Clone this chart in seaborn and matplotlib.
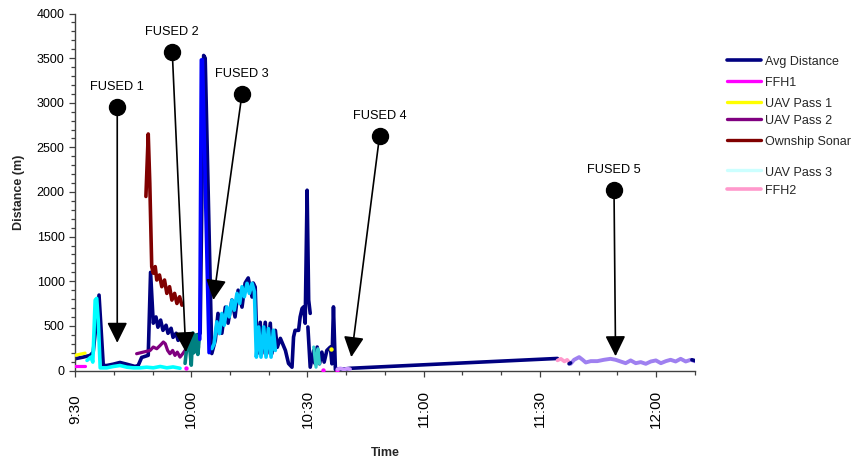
import pandas as pd
import matplotlib
matplotlib.use("Agg")
import matplotlib.pyplot as plt
import matplotlib.dates as mdates
from matplotlib.lines import Line2D
from matplotlib.ticker import MultipleLocator
import seaborn as sns

sns.set_style("white")
plt.rcParams["font.family"] = ["Liberation Sans", "DejaVu Sans"]

START = pd.Timestamp("2006-05-10 09:30")

# ---- series: minutes after 09:30, distance in metres ----
avg_a_min = [0, 1.3, 2.1, 3.9, 4.7, 6.2, 7.3, 8.2, 9.8, 11.6, 13.4, 15.5, 16.3, 17.2, 18.9,
             19.5, 20.2, 20.9, 21.4, 22.1, 22.7, 23.5, 24.0, 24.8, 25.3, 26.1, 26.6, 27.6,
             28.4, 29.7, 31.0, 32.3, 33.2, 33.6, 35.3, 36.2, 36.9, 37.9, 38.8, 39.5, 40.5,
             41.3, 42.1, 43.1, 43.9, 44.7, 45.7, 46.0, 46.5, 47.0, 47.8, 48.2, 49.1, 49.5,
             50.4, 50.8, 51.7, 52.2, 53.0, 54.3, 55.1, 56.0, 56.4, 56.8, 57.7, 58.1, 58.6,
             59.0, 59.4, 59.9, 60.3, 60.7]
avg_a_m = [132, 143, 150, 169, 206, 845, 56, 56, 70, 90, 70, 45, 56, 146, 170,
           1100, 530, 600, 485, 565, 450, 507, 417, 473, 372, 417, 338, 372,
           304, 330, 380, 417, 3530, 3500, 190, 338, 640, 417, 710, 530, 790,
           600, 900, 710, 980, 1037, 823, 980, 935, 190, 540, 190, 540, 190,
           530, 190, 450, 260, 360, 225, 79, 37, 375, 450, 450, 600, 695,
           713, 530, 2020, 790, 640]
avg_b_min = [60.1, 60.7, 61.6, 62.0, 62.5, 63.1, 63.7, 64.3, 65.0, 65.9, 66.3, 66.7, 67.2,
             68.0, 69.3, 71.1, 124.5]
avg_b_m = [488, 37, 225, 75, 263, 75, 206, 94, 225, 263, 75, 713, 10,
           19, 15, 25, 135]
avg_c_min = [127.5, 127.9]
avg_c_m = [75, 85]
avg_d_min = [159.2, 160.0]
avg_d_m = [120, 110]

ffh1_min = [0, 2.6]
ffh1_m = [45, 45]
ffh1_dot_min = [28.6, 63.9, 67.6]
ffh1_dot_m = [30, 5, 10]

uav1_min = [0, 2.6]
uav1_m = [170, 195]
uav1_dot_min = [66.0]
uav1_dot_m = [245]

uav2_min = [15.9, 17.6, 19.4, 20.2, 21.1, 22.0, 22.8, 23.3, 23.9, 24.5, 25.2, 25.8, 26.4,
            27.1, 27.8, 28.4, 29.3, 30.6, 31.9]
uav2_m = [188, 206, 225, 263, 244, 282, 319, 300, 225, 188, 225, 169, 206,
          150, 188, 225, 244, 263, 263]

sonar_min = [18.3, 18.9, 19.3, 19.8, 20.2, 20.7, 21.1, 21.8, 22.4, 23.1, 23.7, 24.4, 25.0,
             25.7, 26.3, 27.0, 27.6]
sonar_m = [1950, 2650, 2100, 1164, 1090, 1164, 1014, 1070, 939, 1014, 864, 939, 789,
           864, 751, 826, 732]

cyan_a_min = [3.1, 4.1, 4.6, 5.2, 5.6, 6.0, 6.5, 8.2, 9.9, 11.6, 13.4, 15.1, 16.8, 18.5,
              20.2, 22.0, 23.7, 25.3, 27.1]
cyan_a_m = [113, 150, 94, 789, 808, 563, 30, 30, 45, 56, 37, 30, 30, 37,
            30, 45, 30, 40, 25]

sky_min = [35.3, 35.9, 36.6, 37.3, 37.9, 38.5, 39.2, 39.8, 40.5, 41.1, 41.8, 42.5, 43.1,
           43.7, 44.4, 45.0, 45.7, 46.3, 46.8, 47.4, 48.0, 48.7, 49.3, 49.9, 50.6, 51.2,
           51.7]
sky_m = [245, 300, 545, 413, 639, 507, 713, 601, 789, 676, 864, 751, 939,
         826, 977, 864, 977, 883, 150, 488, 150, 488, 150, 470, 150, 451,
         225]
sky_b_min = [61.6, 62.2, 62.7, 63.1]
sky_b_m = [263, 37, 244, 75]

teal_min = [28.4, 29.1, 29.5, 30.0, 30.4, 30.7, 31.3, 31.7, 32.0]
teal_m = [80, 360, 300, 60, 420, 200, 400, 180, 330]

blue_min = [32.2, 32.6, 32.9, 34.6]
blue_m = [350, 3480, 3480, 200]

lav_a_min = [67.7, 68.5, 69.4, 70.2, 71.0]
lav_a_m = [15, 25, 10, 22, 15]

ffh2_min = [124.5, 125.4, 126.3, 127.0, 127.5]
ffh2_m = [113, 131, 101, 120, 94]

lav_b_min = [127.9, 128.8, 130.1, 131.0, 131.8, 133.1, 134.8, 136.5, 138.2, 139.5, 140.8,
             142.1, 143.4, 144.7, 146.0, 147.3, 148.6, 149.9, 151.2, 152.5, 153.7, 155.0,
             156.3, 157.6, 158.9, 160.2]
lav_b_m = [75, 120, 150, 120, 90, 105, 105, 120, 131, 120, 101,
           82, 113, 82, 94, 75, 101, 113, 82, 105, 120, 101,
           131, 101, 120, 101]

# fused-track callouts: label, circle position, arrow tip position
fused_labels = ["FUSED 1", "FUSED 2", "FUSED 3", "FUSED 4", "FUSED 5"]
fused_dot_min = [10.9, 25.1, 43.1, 78.6, 139.1]
fused_dot_m = [2950, 3570, 3100, 2630, 2020]
fused_tip_min = [10.9, 28.6, 35.7, 71.3, 139.5]
fused_tip_m = [310, 205, 790, 150, 160]

legend_labels = ["Avg Distance", "FFH1", "UAV Pass 1", "UAV Pass 2",
                 "Ownship Sonar", "UAV Pass 3", "FFH2"]
legend_colors = ["#000080", "#FF00FF", "#FFFF00", "#800080",
                 "#800000", "#CCFFFF", "#FF99CC"]


def to_time(minutes):
    return START + pd.to_timedelta(minutes, unit="min")


def draw(ax, minutes, metres, color, lw=2.3, z=2):
    df = pd.DataFrame({"time": to_time(minutes), "distance": metres})
    sns.lineplot(data=df, x="time", y="distance", ax=ax, color=color, lw=lw,
                 estimator=None, sort=False, legend=False, zorder=z)


def dots(ax, minutes, metres, color, s=10, z=3):
    df = pd.DataFrame({"time": to_time(minutes), "distance": metres})
    sns.scatterplot(data=df, x="time", y="distance", ax=ax, color=color, s=s,
                    linewidth=0, legend=False, zorder=z)


fig = plt.figure(figsize=(8.57, 4.58), dpi=100)
ax = fig.add_axes([75 / 857, 87.5 / 458, 620 / 857, 357 / 458])

navy = "#000080"
draw(ax, avg_a_min, avg_a_m, navy, lw=2.6, z=2)
draw(ax, avg_b_min, avg_b_m, navy, lw=2.6, z=2)
draw(ax, avg_c_min, avg_c_m, navy, lw=2.6, z=4)
draw(ax, avg_d_min, avg_d_m, navy, lw=2.6, z=4)

draw(ax, ffh1_min, ffh1_m, "#FF00FF", z=3)
dots(ax, ffh1_dot_min, ffh1_dot_m, "#FF00FF")
draw(ax, uav1_min, uav1_m, "#FFFF00", z=3)
dots(ax, uav1_dot_min, uav1_dot_m, "#FFFF00")
draw(ax, uav2_min, uav2_m, "#800080", z=3)
draw(ax, sonar_min, sonar_m, "#800000", lw=2.6, z=3)
draw(ax, cyan_a_min, cyan_a_m, "#00FFFF", lw=2.6, z=3)
draw(ax, sky_min, sky_m, "#00CCFF", lw=2.6, z=3)
draw(ax, sky_b_min, sky_b_m, "#33CCCC", z=3)
draw(ax, teal_min, teal_m, "#008080", lw=2.6, z=3)
draw(ax, blue_min, blue_m, "#0000FF", lw=2.6, z=3)
draw(ax, lav_a_min, lav_a_m, "#CC99FF", lw=2.6, z=3)
draw(ax, ffh2_min, ffh2_m, "#FF99CC", lw=2.6, z=3)
draw(ax, lav_b_min, lav_b_m, "#9F80F0", lw=2.8, z=3)

# callouts
for lab, dm, dv, tm, tv in zip(fused_labels, fused_dot_min, fused_dot_m,
                              fused_tip_min, fused_tip_m):
    p_dot = (mdates.date2num(to_time(dm)), dv)
    p_tip = (mdates.date2num(to_time(tm)), tv)
    ax.annotate("", xy=p_tip, xytext=p_dot,
                arrowprops=dict(arrowstyle="-|>,head_length=1.25,head_width=0.62",
                                color="black", lw=1.2, shrinkA=0, shrinkB=0,
                                mutation_scale=10),
                zorder=6)
    ax.plot([p_dot[0]], [p_dot[1]], marker="o", ms=11.5, color="black", zorder=7)
    ax.annotate(lab, xy=p_dot, xytext=(0, 14.5), textcoords="offset points",
                ha="center", va="center", fontsize=9.2, color="black")

# axes
ax.set_xlim(to_time(0), to_time(160))
ax.set_ylim(0, 4000)
ax.xaxis.set_major_locator(mdates.MinuteLocator(byminute=[0, 30]))
ax.xaxis.set_minor_locator(mdates.MinuteLocator(byminute=range(0, 60, 10)))
ax.xaxis.set_major_formatter(mdates.DateFormatter("%-H:%M"))
ax.yaxis.set_major_locator(MultipleLocator(500))
ax.yaxis.set_minor_locator(MultipleLocator(100))
ax.set_xticks(ax.get_xticks())

for side in ("top", "right"):
    ax.spines[side].set_visible(False)
for side in ("left", "bottom"):
    ax.spines[side].set_color("#404040")
    ax.spines[side].set_linewidth(1.0)

ax.tick_params(axis="both", which="both", direction="out", color="#404040",
               width=0.9, bottom=True, left=True)
ax.tick_params(axis="both", which="major", length=4, labelsize=9, labelcolor="black")
ax.tick_params(axis="both", which="minor", length=3)
ax.tick_params(axis="x", which="major", labelrotation=90, labelsize=11, pad=23.5)
for lbl in ax.get_xticklabels():
    lbl.set_verticalalignment("center")

ax.set_xlabel("Time", fontsize=9, fontweight="bold", labelpad=13.5)
ax.set_ylabel("Distance (m)", fontsize=9, fontweight="bold", labelpad=8)

# legend
leg_y = [60, 80.5, 101.5, 118.5, 140, 170, 188.5]
leg_lw = [2.6, 2.4, 2.4, 2.4, 2.4, 2.4, 2.6]
for lab, col, y, lw in zip(legend_labels, legend_colors, leg_y, leg_lw):
    fy = 1 - y / 458
    fig.add_artist(Line2D([727 / 857, 761 / 857], [fy, fy], color=col, lw=lw,
                          transform=fig.transFigure))
    fig.text(765 / 857, fy - 2.5 / 458, lab, fontsize=9, va="center", ha="left")

fig.savefig("out.png", dpi=100)
